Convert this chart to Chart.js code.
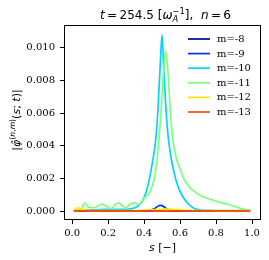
<!DOCTYPE html>
<html>
<head>
<meta charset="utf-8">
<script src="https://cdn.jsdelivr.net/npm/chart.js@4"></script>
<style>
  html, body { margin: 0; padding: 0; background: #fff; }
  #wrap { width: 269px; height: 260px; position: relative; }
</style>
</head>
<body>
<div id="wrap"><canvas id="chart"></canvas></div>
<script>
// radial coordinate s
const sVals = [0.01, 0.03, 0.05, 0.07, 0.09, 0.12, 0.15, 0.17, 0.19, 0.22, 0.24, 0.26, 0.28, 0.30, 0.32,
  0.35, 0.37, 0.39, 0.41, 0.43, 0.45, 0.46, 0.47, 0.48, 0.49, 0.50, 0.51, 0.52, 0.53, 0.54, 0.55, 0.56,
  0.58, 0.60, 0.62, 0.65, 0.68, 0.72, 0.76, 0.80, 0.85, 0.90, 0.95, 0.99];

const mLabels = ['m=-8', 'm=-9', 'm=-10', 'm=-11', 'm=-12', 'm=-13'];
const mColors = ['#00008f', '#0030ff', '#00d4ff', '#7dff7a', '#ffe500', '#ff4800'];

const m8 = [0.000005, 0.000005, 0.000005, 0.000005, 0.000005, 0.000005, 0.000005, 0.000005, 0.000005, 0.000005, 0.000005, 0.000005, 0.000005, 0.000005, 0.000005,
  0.000005, 0.000005, 0.000005, 0.000008, 0.00001, 0.000015, 0.00002, 0.00002, 0.00002, 0.00002, 0.00002, 0.00002, 0.00002, 0.000015, 0.00001, 0.000008, 0.000005,
  0.000005, 0.000005, 0.000005, 0.000005, 0.000005, 0.000005, 0.000005, 0.000005, 0.000005, 0.000005, 0.000005, 0.000005];
const m9 = [0.00001, 0.00001, 0.00001, 0.00001, 0.00001, 0.00001, 0.00001, 0.00001, 0.00001, 0.00001, 0.00001, 0.00001, 0.00001, 0.00001, 0.00001,
  0.00001, 0.00001, 0.00001, 0.00002, 0.00004, 0.0001, 0.00016, 0.00024, 0.00031, 0.00035, 0.00033, 0.00026, 0.00018, 0.0001, 0.00005, 0.00003, 0.00002,
  0.00001, 0.00001, 0.00001, 0.00001, 0.00001, 0.00001, 0.00001, 0.00001, 0.00001, 0.00001, 0.00001, 0.00001];
const m10 = [0.00002, 0.00003, 0.00004, 0.00005, 0.00006, 0.00007, 0.00008, 0.0001, 0.0001, 0.0001, 0.0001, 0.0001, 0.0001, 0.0001, 0.00012,
  0.0002, 0.00035, 0.0006, 0.0011, 0.002, 0.0032, 0.0039, 0.005, 0.0068, 0.009, 0.0108, 0.0085, 0.0066, 0.005, 0.004, 0.0033, 0.0027,
  0.0018, 0.0012, 0.0008, 0.0004, 0.00015, 0.00006, 0.00004, 0.00003, 0.00003, 0.00003, 0.00002, 0.00002];
const m11 = [0.0, 0.00005, 0.0001, 0.00048, 0.00025, 0.0002, 0.00035, 0.00042, 0.0003, 0.00015, 0.0004, 0.0005, 0.0003, 0.0002, 0.0004,
  0.0005, 0.0004, 0.0006, 0.0009, 0.0011, 0.0017, 0.0022, 0.0029, 0.004, 0.0054, 0.007, 0.0088, 0.0098, 0.009, 0.0072, 0.0055, 0.0044,
  0.0032, 0.0026, 0.002, 0.0015, 0.0012, 0.0009, 0.00075, 0.0006, 0.00045, 0.0003, 0.00012, 0.00003];
const m12 = [0.00005, 0.0002, 0.00012, 0.00006, 0.00004, 0.00003, 0.00003, 0.00003, 0.00003, 0.00003, 0.00003, 0.00003, 0.00003, 0.00003, 0.00003,
  0.00003, 0.00003, 0.00004, 0.00005, 0.00006, 0.00007, 0.00008, 0.00009, 0.0001, 0.0001, 0.0001, 0.00011, 0.00012, 0.00012, 0.00012, 0.00011, 0.0001,
  0.00009, 0.00008, 0.00006, 0.00004, 0.00003, 0.00003, 0.00002, 0.00002, 0.00002, 0.00002, 0.00002, 0.00002];
const m13 = [0.00001, 0.00001, 0.00001, 0.00001, 0.00001, 0.00001, 0.00001, 0.00001, 0.00001, 0.00001, 0.00001, 0.00001, 0.00001, 0.00001, 0.00001,
  0.00001, 0.00001, 0.00001, 0.00001, 0.00001, 0.00001, 0.00001, 0.00001, 0.00001, 0.00001, 0.00001, 0.00001, 0.00001, 0.00001, 0.00001, 0.00001, 0.00001,
  0.00001, 0.00001, 0.00001, 0.00001, 0.00001, 0.00001, 0.00001, 0.00001, 0.00001, 0.00001, 0.00001, 0.00001];
const series = [m8, m9, m10, m11, m12, m13];

const xTicks = [0.0, 0.2, 0.4, 0.6, 0.8, 1.0];
const yTicks = [0.000, 0.002, 0.004, 0.006, 0.008, 0.010];

const SANS = '"DejaVu Sans", sans-serif';
const SERIF = '"DejaVu Serif", serif';

// draws a row of text pieces, each {t, it, size, dy, stack}
function drawPieces(ctx, pieces, x, y, align) {
  const widthOf = p => {
    ctx.font = (p.it ? 'italic ' : '') + p.size + 'px ' + SANS;
    return ctx.measureText(p.t).width;
  };
  const stepOf = i => {
    let w = widthOf(pieces[i]);
    if (pieces[i + 1] && pieces[i + 1].stack) w = Math.max(w, widthOf(pieces[i + 1]));
    return w;
  };
  let total = 0;
  pieces.forEach((p, i) => { if (!p.stack) total += stepOf(i); });
  let cx = align === 'center' ? x - total / 2 : x;
  let prevX = cx;
  pieces.forEach((p, i) => {
    ctx.font = (p.it ? 'italic ' : '') + p.size + 'px ' + SANS;
    ctx.fillText(p.t, p.stack ? prevX : cx, y + (p.dy || 0));
    if (!p.stack) {
      prevX = cx;
      cx += stepOf(i);
    }
  });
}

const decorPlugin = {
  id: 'decor',
  afterDraw(chart) {
    const ctx = chart.ctx;
    const a = chart.chartArea;
    ctx.save();
    // frame
    ctx.strokeStyle = '#000';
    ctx.lineWidth = 1;
    ctx.strokeRect(Math.round(a.left) + 0.5, Math.round(a.top) + 0.5,
      Math.round(a.right - a.left) - 1, Math.round(a.bottom - a.top) - 1);

    ctx.fillStyle = '#000';
    ctx.textAlign = 'left';
    ctx.textBaseline = 'alphabetic';
    const cxMid = (a.left + a.right) / 2;

    // title
    drawPieces(ctx, [
      { t: 't', it: true, size: 12 },
      { t: '\u2009=\u2009254.5 [', size: 12 },
      { t: 'ω', it: true, size: 12 },
      { t: 'A', it: true, size: 8.4, dy: 3 },
      { t: '−1', size: 8.4, dy: -5, stack: true },
      { t: '],  ', size: 12 },
      { t: 'n', it: true, size: 12 },
      { t: '\u2009=\u20096', size: 12 }
    ], cxMid + 3, 18.5, 'center');

    // x label
    drawPieces(ctx, [
      { t: 's', it: true, size: 11 },
      { t: ' [−]', size: 11 }
    ], cxMid, 251, 'center');

    // y label
    ctx.save();
    ctx.translate(20, 120);
    ctx.rotate(-Math.PI / 2);
    drawPieces(ctx, [
      { t: '|', size: 11 },
      { t: 'φ̂', it: true, size: 11 },
      { t: '(', size: 7.7, dy: -5 },
      { t: 'n', it: true, size: 7.7, dy: -5 },
      { t: ',', size: 7.7, dy: -5 },
      { t: 'm', it: true, size: 7.7, dy: -5 },
      { t: ')', size: 7.7, dy: -5 },
      { t: '(', size: 11 },
      { t: 's', it: true, size: 11 },
      { t: '; ', size: 11 },
      { t: 't', it: true, size: 11 },
      { t: ')|', size: 11 }
    ], 0, 0, 'center');
    ctx.restore();

    // legend
    ctx.font = '10px ' + SERIF;
    ctx.textBaseline = 'middle';
    mLabels.forEach((lab, i) => {
      const y = 39 + i * 14.6;
      ctx.strokeStyle = mColors[i];
      ctx.lineWidth = 1.7;
      ctx.beginPath();
      ctx.moveTo(188, y);
      ctx.lineTo(210, y);
      ctx.stroke();
      ctx.fillStyle = '#000';
      ctx.fillText(lab, 217, y + 0.5);
    });
    ctx.restore();
  }
};

const datasets = series.map((vals, i) => ({
  label: mLabels[i],
  data: sVals.map((s, k) => ({ x: s, y: vals[k] })),
  borderColor: mColors[i],
  backgroundColor: mColors[i],
  borderWidth: 1.7,
  pointRadius: 0,
  fill: false,
  cubicInterpolationMode: 'monotone',
  order: series.length - 1 - i
}));

new Chart(document.getElementById('chart'), {
  type: 'line',
  data: { datasets },
  options: {
    responsive: true,
    maintainAspectRatio: false,
    animation: false,
    layout: { padding: { left: 0, right: 8, top: 25, bottom: 0 } },
    plugins: {
      legend: { display: false },
      tooltip: { enabled: false },
      title: { display: false }
    },
    scales: {
      x: {
        type: 'linear',
        min: -0.045,
        max: 1.05,
        afterBuildTicks: scale => { scale.ticks = xTicks.map(v => ({ value: v })); },
        afterFit: scale => { scale.height = 40; },
        grid: { drawOnChartArea: false, drawTicks: true, tickLength: 4, color: '#000' },
        border: { display: false },
        ticks: {
          color: '#000',
          font: { family: SERIF, size: 10 },
          padding: 3,
          maxRotation: 0,
          callback: v => v.toFixed(1)
        }
      },
      y: {
        type: 'linear',
        min: -0.00055,
        max: 0.0114,
        afterBuildTicks: scale => { scale.ticks = yTicks.map(v => ({ value: v })); },
        afterFit: scale => { scale.width = 64; },
        grid: { drawOnChartArea: false, drawTicks: true, tickLength: 4, color: '#000' },
        border: { display: false },
        ticks: {
          color: '#000',
          font: { family: SERIF, size: 10 },
          padding: 5,
          callback: v => v.toFixed(3)
        }
      }
    }
  },
  plugins: [decorPlugin]
});
</script>
</body>
</html>
